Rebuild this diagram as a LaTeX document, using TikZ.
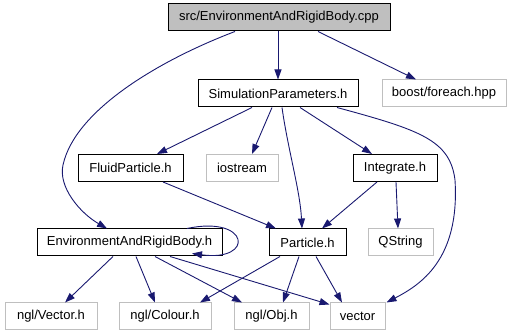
\documentclass[tikz,border=0pt]{standalone}
\usepackage{fontspec}
\setmainfont{Liberation Sans}
\usepackage{tikz}
\usetikzlibrary{arrows.meta}

\definecolor{edgeblue}{RGB}{25,25,112}
\definecolor{extgray}{RGB}{191,191,191}

\begin{document}
\begin{tikzpicture}[x=1pt, y=-1pt,
            font=\fontsize{13}{15}\selectfont,
            header/.style={draw=black, fill=white, line width=1pt, minimum height=27pt, inner sep=0pt},
            extheader/.style={header, draw=extgray},
            include/.style={-{Triangle[length=10pt, width=7pt]}, draw=edgeblue, line width=0.9pt}]

            \useasboundingbox (0,0) rectangle (511,336);

            % Source file on top
            \node[header, fill=extgray, minimum width=222pt] (root) at (279,17.5) {src/EnvironmentAndRigidBody.cpp};

            % Headers in the project
            \node[header, minimum width=160pt] (sim) at (278,93.5) {SimulationParameters.h};
            \node[header, minimum width=105pt] (fluid) at (130.5,168) {FluidParticle.h};
            \node[header, minimum width=84pt] (integ) at (395,168) {Integrate.h};
            \node[header, minimum width=185pt] (envh) at (129.5,242.5) {EnvironmentAndRigidBody.h};
            \node[header, minimum width=77pt] (particle) at (307.5,242.5) {Particle.h};

            % System and library headers
            \node[extheader, minimum width=124pt] (boost) at (444,93.5) {boost/foreach.hpp};
            \node[extheader, minimum width=72pt] (iostream) at (242,168) {iostream};
            \node[extheader, minimum width=65pt] (qstring) at (400.5,242.5) {QString};
            \node[extheader, minimum width=92pt] (nglvec) at (51,316.5) {ngl/Vector.h};
            \node[extheader, minimum width=92pt] (nglcol) at (165,316.5) {ngl/Colour.h};
            \node[extheader, minimum width=75pt] (nglobj) at (271.5,316.5) {ngl/Obj.h};
            \node[extheader, minimum width=55pt] (vector) at (357.5,316.5) {vector};

            % Includes of the source file
            \draw[include] ([xshift=-1pt]root.south) -- (sim.north);
            \draw[include] ([xshift=39pt]root.south) -- ([xshift=-28pt]boost.north);
            \draw[include] ([xshift=-44pt]root.south) .. controls (160,60) and (75,110) .. (63,165)
                .. controls (58,187) and (80,213) .. ([xshift=-22.5pt]envh.north);

            % SimulationParameters.h
            \draw[include] ([xshift=-26pt]sim.south) -- ([xshift=26.5pt]fluid.north);
            \draw[include] ([xshift=-6pt]sim.south) -- ([xshift=10pt]iostream.north);
            \draw[include] ([xshift=4pt]sim.south) .. controls (288,150) and (300,190) .. ([xshift=-5.5pt]particle.north);
            \draw[include] ([xshift=22pt]sim.south) -- ([xshift=-23pt]integ.north);
            \draw[include] ([xshift=59pt]sim.south) .. controls (420,130) and (450,140) .. (455,180)
                .. controls (460,260) and (420,285) .. ([xshift=1pt]vector.north east);

            % FluidParticle.h and Integrate.h
            \draw[include] ([xshift=32.5pt]fluid.south) -- ([xshift=-31.5pt]particle.north);
            \draw[include] ([xshift=-18pt]integ.south) -- ([xshift=14.5pt]particle.north);
            \draw[include] ([xshift=1pt]integ.south) -- ([xshift=-2.5pt]qstring.north);

            % EnvironmentAndRigidBody.h
            \draw[include] ([xshift=57.5pt]envh.north) .. controls (250,215) and (255,262) .. ([xshift=62.5pt,yshift=3pt]envh.south);
            \draw[include] ([xshift=-16.5pt]envh.south) -- ([xshift=14pt]nglvec.north);
            \draw[include] ([xshift=6.5pt]envh.south) -- ([xshift=-10pt]nglcol.north);
            \draw[include] ([xshift=25.5pt]envh.south) -- ([xshift=-29.5pt]nglobj.north);
            \draw[include] ([xshift=40.5pt]envh.south) -- ([yshift=-2pt]vector.north west);

            % Particle.h
            \draw[include] ([xshift=-27.5pt]particle.south) -- ([xshift=35pt]nglcol.north);
            \draw[include] ([xshift=-8.5pt]particle.south) -- ([xshift=11.5pt]nglobj.north);
            \draw[include] ([xshift=8.5pt]particle.south) -- ([xshift=-15.5pt]vector.north);
        \end{tikzpicture}
\end{document}
